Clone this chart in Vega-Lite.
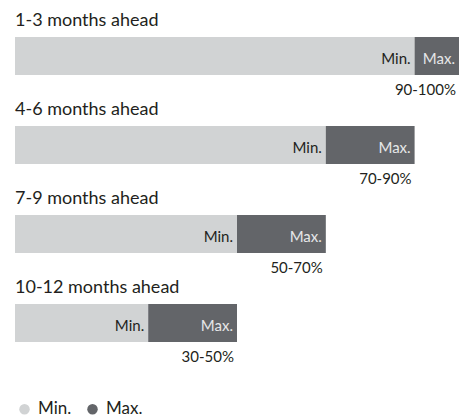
{
  "$schema": "https://vega.github.io/schema/vega-lite/v6.json",
  "autosize": {"type": "none"},
  "width": 444,
  "height": 356,
  "padding": {"left": 15, "top": 11.5, "right": 0, "bottom": 50.5},
  "background": "white",
  "config": {"view": {"stroke": null}, "font": "Lato"},
  "data": {"values": [
    {"horizon": "1-3 months ahead", "part": "Min.", "lo": 0, "hi": 90, "range": "90-100%"},
    {"horizon": "1-3 months ahead", "part": "Max.", "lo": 90, "hi": 100, "range": "90-100%"},
    {"horizon": "4-6 months ahead", "part": "Min.", "lo": 0, "hi": 70, "range": "70-90%"},
    {"horizon": "4-6 months ahead", "part": "Max.", "lo": 70, "hi": 90, "range": "70-90%"},
    {"horizon": "7-9 months ahead", "part": "Min.", "lo": 0, "hi": 50, "range": "50-70%"},
    {"horizon": "7-9 months ahead", "part": "Max.", "lo": 50, "hi": 70, "range": "50-70%"},
    {"horizon": "10-12 months ahead", "part": "Min.", "lo": 0, "hi": 30, "range": "30-50%"},
    {"horizon": "10-12 months ahead", "part": "Max.", "lo": 30, "hi": 50, "range": "30-50%"}
  ]},
  "encoding": {
    "y": {"field": "horizon", "type": "nominal", "sort": null, "axis": null,
          "scale": {"paddingInner": 0, "paddingOuter": 0}}
  },
  "layer": [
    {
      "mark": {"type": "bar", "height": 38},
      "encoding": {
        "x": {"field": "lo", "type": "quantitative", "axis": null, "scale": {"domain": [0, 100], "nice": false, "zero": true}},
        "x2": {"field": "hi"},
        "color": {"field": "part", "type": "nominal",
          "scale": {"domain": ["Min.", "Max."], "range": ["#d1d3d4", "#636569"]},
          "legend": {"title": null, "orient": "none", "legendX": 1, "legendY": 389, "direction": "horizontal",
            "symbolType": "circle", "symbolSize": 110, "symbolStrokeWidth": 0, "labelFontSize": 17, "labelColor": "#231f20", "labelFont": "Lato",
            "columnPadding": 12, "labelOffset": 5, "padding": 0}}
      }
    },
    {
      "mark": {"type": "text", "align": "right", "baseline": "middle", "dx": -4, "dy": 3, "fontSize": 15},
      "encoding": {
        "x": {"field": "hi", "type": "quantitative"},
        "text": {"field": "part"},
        "color": {"field": "part", "type": "nominal", "legend": null,
          "scale": {"domain": ["Min.", "Max."], "range": ["#231f20", "#e6e7e8"]}}
      }
    },
    {
      "transform": [{"filter": "datum.part === 'Max.'"}],
      "mark": {"type": "text", "align": "right", "baseline": "middle", "dx": -3, "dy": 34, "fontSize": 15, "color": "#231f20"},
      "encoding": {
        "x": {"field": "hi", "type": "quantitative"},
        "text": {"field": "range"}
      }
    },
    {
      "transform": [{"filter": "datum.part === 'Min.'"}],
      "mark": {"type": "text", "align": "left", "baseline": "middle", "dx": 0, "dy": -35, "fontSize": 18, "color": "#231f20"},
      "encoding": {
        "x": {"field": "lo", "type": "quantitative"},
        "text": {"field": "horizon"}
      }
    }
  ],
  "resolve": {"scale": {"color": "independent"}}
}
